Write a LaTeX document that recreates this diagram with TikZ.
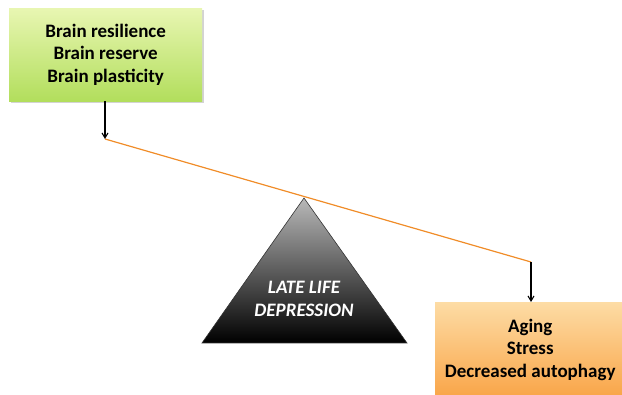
\documentclass[tikz,border=0pt]{standalone}
\usepackage{fontspec}
\setmainfont{Carlito}
\usetikzlibrary{shadows,arrows.meta}
\definecolor{gtop}{RGB}{232,246,178}
\definecolor{gbot}{RGB}{178,222,92}
\definecolor{otop}{RGB}{253,220,165}
\definecolor{obot}{RGB}{249,165,72}
\definecolor{beam}{RGB}{240,140,40}
\tikzset{
  box/.style={draw=none, minimum width=193pt, minimum height=93pt, align=center,
    font=\fontsize{19}{22.5}\selectfont\bfseries, drop shadow={shadow xshift=2pt, shadow yshift=-2pt, opacity=0.35}},
  arr/.style={-{Straight Barb[length=5pt,width=6pt]}, line width=1.1pt, black},
}
\begin{document}
\begin{tikzpicture}[x=1pt,y=-1pt]
\useasboundingbox (0,0) rectangle (622,395);
\node[box, top color=gtop, bottom color=gbot, anchor=north west] (green) at (9,8) {Brain resilience\\Brain reserve\\Brain plasticity};
\node[box, top color=otop, bottom color=obot, anchor=north west, minimum width=190pt, minimum height=95pt] (orange) at (435,302) {Aging\\Stress\\Decreased autophagy};
\shade[top color=gray!55, bottom color=black, draw=black!80, line width=0.6pt] (304,198) coordinate (apex) -- (407,343) coordinate (br) -- (202,343) coordinate (bl) -- cycle;
\node[font=\fontsize{19}{23}\selectfont\bfseries\itshape, text=white, align=center] (tri) at (304,299) {LATE LIFE\\DEPRESSION};
\coordinate (bl1) at (105,139);
\coordinate (br1) at (531,262);
\draw[beam, line width=1.2pt] (bl1) -- (br1);
\draw[arr] (green.south -| bl1) -- (bl1);
\draw[arr] (br1) -- (orange.north -| br1);
\end{tikzpicture}
\end{document}
